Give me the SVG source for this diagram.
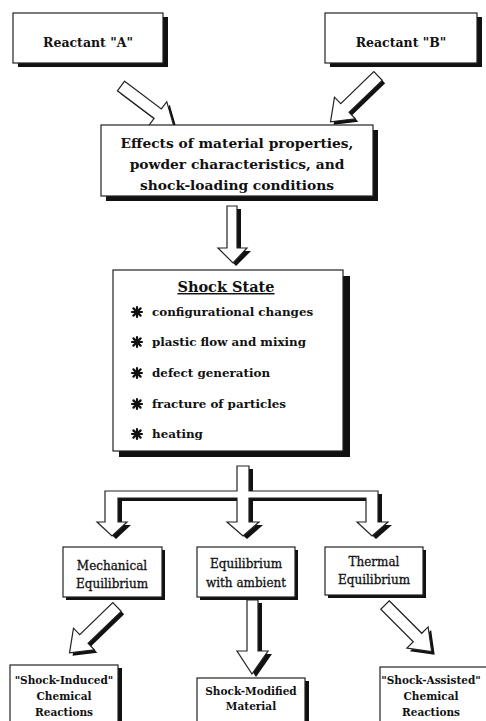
<svg xmlns="http://www.w3.org/2000/svg" xmlns:xlink="http://www.w3.org/1999/xlink" width="486" height="721" viewBox="0 0 486 721">
<style>
.box{fill:#fff;stroke:#222;stroke-width:1.2}
.sh{fill:#111}
.arw{fill:#fff;stroke:#222;stroke-width:1.2;stroke-linejoin:miter}
.t1{font-family:"DejaVu Serif","Liberation Serif",serif;font-weight:bold;font-size:12.5px;fill:#111;text-anchor:middle}
.te{font-family:"DejaVu Serif","Liberation Serif",serif;font-weight:bold;font-size:13.8px;fill:#111;text-anchor:middle}
.t2{font-family:"DejaVu Serif","Liberation Serif",serif;font-weight:bold;font-size:11.9px;fill:#111}
.tt{font-family:"DejaVu Serif","Liberation Serif",serif;font-weight:bold;font-size:14.5px;fill:#111;text-anchor:middle}
.t3{font-family:"DejaVu Serif","Liberation Serif",serif;font-size:12px;fill:#111;stroke:#111;stroke-width:0.3;text-anchor:middle}
.t4{font-family:"DejaVu Serif","Liberation Serif",serif;font-weight:bold;font-size:10.5px;fill:#111;text-anchor:middle}
</style>
<defs>
<polygon id="dia" points="0,-6 46,-6 46,-15 66,0 46,15 46,6 0,6"/>
<g id="star" stroke="#111" stroke-width="2.2" stroke-linecap="round">
<line x1="-5" y1="0" x2="5" y2="0"/><line x1="0" y1="-5" x2="0" y2="5"/>
<line x1="-3.6" y1="-3.6" x2="3.6" y2="3.6"/><line x1="-3.6" y1="3.6" x2="3.6" y2="-3.6"/>
</g>
</defs>

<g id="connectors">
<!-- Reactant A arrow -->
<g transform="translate(124,89) rotate(37)"><use href="#dia" class="sh"/></g>
<g transform="translate(121,86) rotate(37)"><use href="#dia" class="arw"/></g>
<!-- Reactant B arrow -->
<g transform="translate(381,79) rotate(136)"><use href="#dia" class="sh"/></g>
<g transform="translate(378,76) rotate(136)"><use href="#dia" class="arw"/></g>
<!-- Effects to Shock State -->
<path class="sh" d="M231,209 H241 V251 H251 L236,266 L222,251 H231 Z"/>
<path class="arw" d="M227,206 H237 V248 H247 L233,263 L218,248 H227 Z"/>
<!-- Manifold -->
<path class="sh" transform="translate(4,3)" d="M237,466 H249 V491 H378 V522 H388 L372,536 L357,522 H366 V498 H249 V522 H259 L243,536 L227,522 H237 V498 H118 V522 H127 L112,536 L97,522 H105 V491 H237 Z"/>
<path class="arw" d="M237,466 H249 V491 H378 V522 H388 L372,536 L357,522 H366 V498 H249 V522 H259 L243,536 L227,522 H237 V498 H118 V522 H127 L112,536 L97,522 H105 V491 H237 Z"/>
<!-- Mechanical to Shock-Induced -->
<g transform="translate(120,610) rotate(136)"><use href="#dia" class="sh"/></g>
<g transform="translate(117,607) rotate(136)"><use href="#dia" class="arw"/></g>
<!-- Equilibrium ambient to Shock-Modified -->
<path class="sh" d="M251,603 H262 V654 H272 L256,677 L241,654 H251 Z"/>
<path class="arw" d="M247,600 H258 V651 H268 L252,674 L237,651 H247 Z"/>
<!-- Thermal to Shock-Assisted -->
<g transform="translate(388,608) rotate(45)"><use href="#dia" class="sh"/></g>
<g transform="translate(385,605) rotate(45)"><use href="#dia" class="arw"/></g>
</g>

<g id="reactantA">
<rect class="sh" x="18" y="17" width="150" height="50"/>
<rect class="box" x="13" y="13" width="150" height="50"/>
<text class="t1" x="88" y="47">Reactant "A"</text>
</g>
<g id="reactantB">
<rect class="sh" x="330" y="17" width="152" height="50"/>
<rect class="box" x="325" y="13" width="152" height="50"/>
<text class="t1" x="401" y="47">Reactant "B"</text>
</g>
<g id="effects">
<rect class="sh" x="106" y="130" width="272" height="71"/>
<rect class="box" x="101" y="125" width="272" height="71"/>
<text class="te" x="237" y="148">Effects of material properties,</text>
<text class="te" x="237" y="169">powder characteristics, and</text>
<text class="te" x="237" y="190">shock-loading conditions</text>
</g>
<g id="shockstate">
<rect class="sh" x="119" y="276" width="231" height="181"/>
<rect class="box" x="113" y="270" width="230" height="181"/>
<text class="tt" x="226" y="292" text-decoration="underline">Shock State</text>
<use href="#star" x="137" y="312"/>
<text class="t2" x="152" y="316">configurational changes</text>
<use href="#star" x="137" y="342"/>
<text class="t2" x="152" y="346">plastic flow and mixing</text>
<use href="#star" x="137" y="373"/>
<text class="t2" x="152" y="377">defect generation</text>
<use href="#star" x="137" y="404"/>
<text class="t2" x="152" y="408">fracture of particles</text>
<use href="#star" x="137" y="434"/>
<text class="t2" x="152" y="438">heating</text>
</g>
<g id="mechanical">
<rect class="sh" x="66" y="550" width="99" height="50"/>
<rect class="box" x="63" y="547" width="99" height="50"/>
<text class="t3" x="112" y="570">Mechanical</text>
<text class="t3" x="112" y="588">Equilibrium</text>
</g>
<g id="ambient">
<rect class="sh" x="200" y="550" width="98" height="50"/>
<rect class="box" x="197" y="547" width="98" height="50"/>
<text class="t3" x="246" y="568">Equilibrium</text>
<text class="t3" x="246" y="587">with ambient</text>
</g>
<g id="thermal">
<rect class="sh" x="328" y="550" width="98" height="48"/>
<rect class="box" x="325" y="547" width="98" height="48"/>
<text class="t3" x="374" y="566">Thermal</text>
<text class="t3" x="374" y="584">Equilibrium</text>
</g>
<g id="induced">
<rect class="sh" x="14" y="668" width="108" height="60"/>
<rect class="box" x="10" y="665" width="108" height="60"/>
<text class="t4" x="64" y="684">"Shock-Induced"</text>
<text class="t4" x="64" y="700">Chemical</text>
<text class="t4" x="64" y="716">Reactions</text>
</g>
<g id="modified">
<rect class="sh" x="201" y="681" width="108" height="50"/>
<rect class="box" x="197" y="678" width="108" height="50"/>
<text class="t4" x="251" y="695">Shock-Modified</text>
<text class="t4" x="251" y="710">Material</text>
</g>
<g id="assisted">
<rect class="sh" x="384" y="670" width="110" height="60"/>
<rect class="box" x="380" y="667" width="110" height="60"/>
<text class="t4" x="431" y="684">"Shock-Assisted"</text>
<text class="t4" x="431" y="700">Chemical</text>
<text class="t4" x="431" y="716">Reactions</text>
</g>
</svg>
